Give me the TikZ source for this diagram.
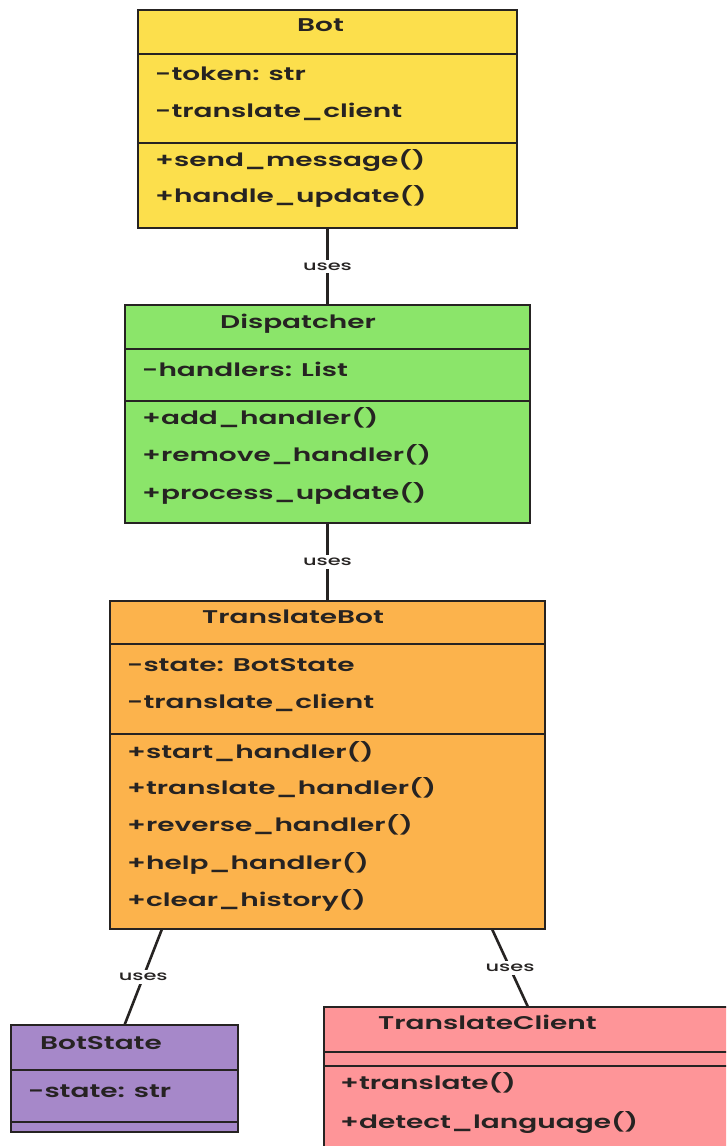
\documentclass[tikz,border=0pt]{standalone}
\usepackage{fontspec}
\setmainfont{Poppins}[FakeStretch=1.52, UprightFont=* SemiBold, BoldFont=* SemiBold]
\newfontfamily\lblfont{Poppins}[FakeStretch=1.55, UprightFont=* Medium]
\usetikzlibrary{calc}
\definecolor{cyellow}{HTML}{FCDF4C}
\definecolor{cgreen}{HTML}{8BE56A}
\definecolor{corange}{HTML}{FCB34C}
\definecolor{cpurple}{HTML}{A688C9}
\definecolor{cpink}{HTML}{FE9598}
\definecolor{ink}{HTML}{262322}
\tikzset{
  classbox/.style={draw=ink, line width=2.6pt, rectangle, inner sep=0pt, outer sep=0pt},
  divider/.style={draw=ink, line width=1.3pt},
  txt/.style={anchor=mid west, inner sep=0pt, yshift=-3.5pt, text=ink, font=\fontsize{18.4}{21}\selectfont},
  ttl/.style={txt},
  conn/.style={draw=ink, line width=2.6pt},
  lbl/.style={fill=white, inner sep=3pt, text=ink, font=\lblfont\fontsize{13.5}{15}\selectfont}
}
\begin{document}
\begin{tikzpicture}[x=1pt,y=-1pt]
\clip (0,0) rectangle (726,1146);
\fill[white] (0,0) rectangle (726,1146);
% Bot
\node[classbox, fill=cyellow, minimum width=379pt, minimum height=218pt] (bot) at (327.5,119) {};
\draw[divider] ($(bot.north west)+(0,44)$) -- ($(bot.north east)+(0,44)$);
\draw[divider] ($(bot.north west)+(0,133)$) -- ($(bot.north east)+(0,133)$);
\node[ttl] (botT) at (297,25) {Bot};
\node[txt] (botA1) at (155,74) {-token: str};
\node[txt] (botA2) at (155,111) {-translate\_client};
\node[txt] (botM1) at (155,160) {+send\_message()};
\node[txt] (botM2) at (155,196) {+handle\_update()};
% Dispatcher
\node[classbox, fill=cgreen, minimum width=405pt, minimum height=218pt] (disp) at (327.5,414) {};
\draw[divider] ($(disp.north west)+(0,44)$) -- ($(disp.north east)+(0,44)$);
\draw[divider] ($(disp.north west)+(0,96)$) -- ($(disp.north east)+(0,96)$);
\node[ttl] (dispT) at (220,322) {Dispatcher};
\node[txt] (dispA1) at (142,370) {-handlers: List};
\node[txt] (dispM1) at (142,418) {+add\_handler()};
\node[txt] (dispM2) at (142,455) {+remove\_handler()};
\node[txt] (dispM3) at (142,493) {+process\_update()};
% TranslateBot
\node[classbox, fill=corange, minimum width=435pt, minimum height=328pt] (tb) at (327.5,765) {};
\draw[divider] ($(tb.north west)+(0,43)$) -- ($(tb.north east)+(0,43)$);
\draw[divider] ($(tb.north west)+(0,133)$) -- ($(tb.north east)+(0,133)$);
\node[ttl] (tbT) at (202,617) {TranslateBot};
\node[txt] (tbA1) at (127,665) {-state: BotState};
\node[txt] (tbA2) at (127,702) {-translate\_client};
\node[txt] (tbM1) at (127,752) {+start\_handler()};
\node[txt] (tbM2) at (127,788) {+translate\_handler()};
\node[txt] (tbM3) at (127,825) {+reverse\_handler()};
\node[txt] (tbM4) at (127,863) {+help\_handler()};
\node[txt] (tbM5) at (127,900) {+clear\_history()};
% BotState
\node[classbox, fill=cpurple, minimum width=227pt, minimum height=107pt] (bs) at (124.5,1078.5) {};
\draw[divider] ($(bs.north west)+(0,45)$) -- ($(bs.north east)+(0,45)$);
\draw[divider] ($(bs.north west)+(0,97)$) -- ($(bs.north east)+(0,97)$);
\node[ttl] (bsT) at (40,1043) {BotState};
\node[txt] (bsA1) at (28,1091) {-state: str};
% TranslateClient
\node[classbox, fill=cpink, minimum width=416pt, minimum height=163pt] (tc) at (532,1088.5) {};
\draw[divider] ($(tc.north west)+(0,45)$) -- ($(tc.north east)+(0,45)$);
\draw[divider] ($(tc.north west)+(0,59)$) -- ($(tc.north east)+(0,59)$);
\node[ttl] (tcT) at (378,1023) {TranslateClient};
\node[txt] (tcM1) at (340,1083) {+translate()};
\node[txt] (tcM2) at (340,1122) {+detect\_language()};
% connectors
\draw[conn] (bot.south) -- node[lbl] {uses} (disp.north);
\draw[conn] (disp.south) -- node[lbl] {uses} (tb.north);
\draw[conn] ($(tb.south west)+(52,0)$) -- node[lbl] {uses} (bs.north);
\draw[conn] ($(tb.south east)+(-53,0)$) -- node[lbl] {uses} ($(tc.north)+(-4,0)$);
\end{tikzpicture}
\end{document}
